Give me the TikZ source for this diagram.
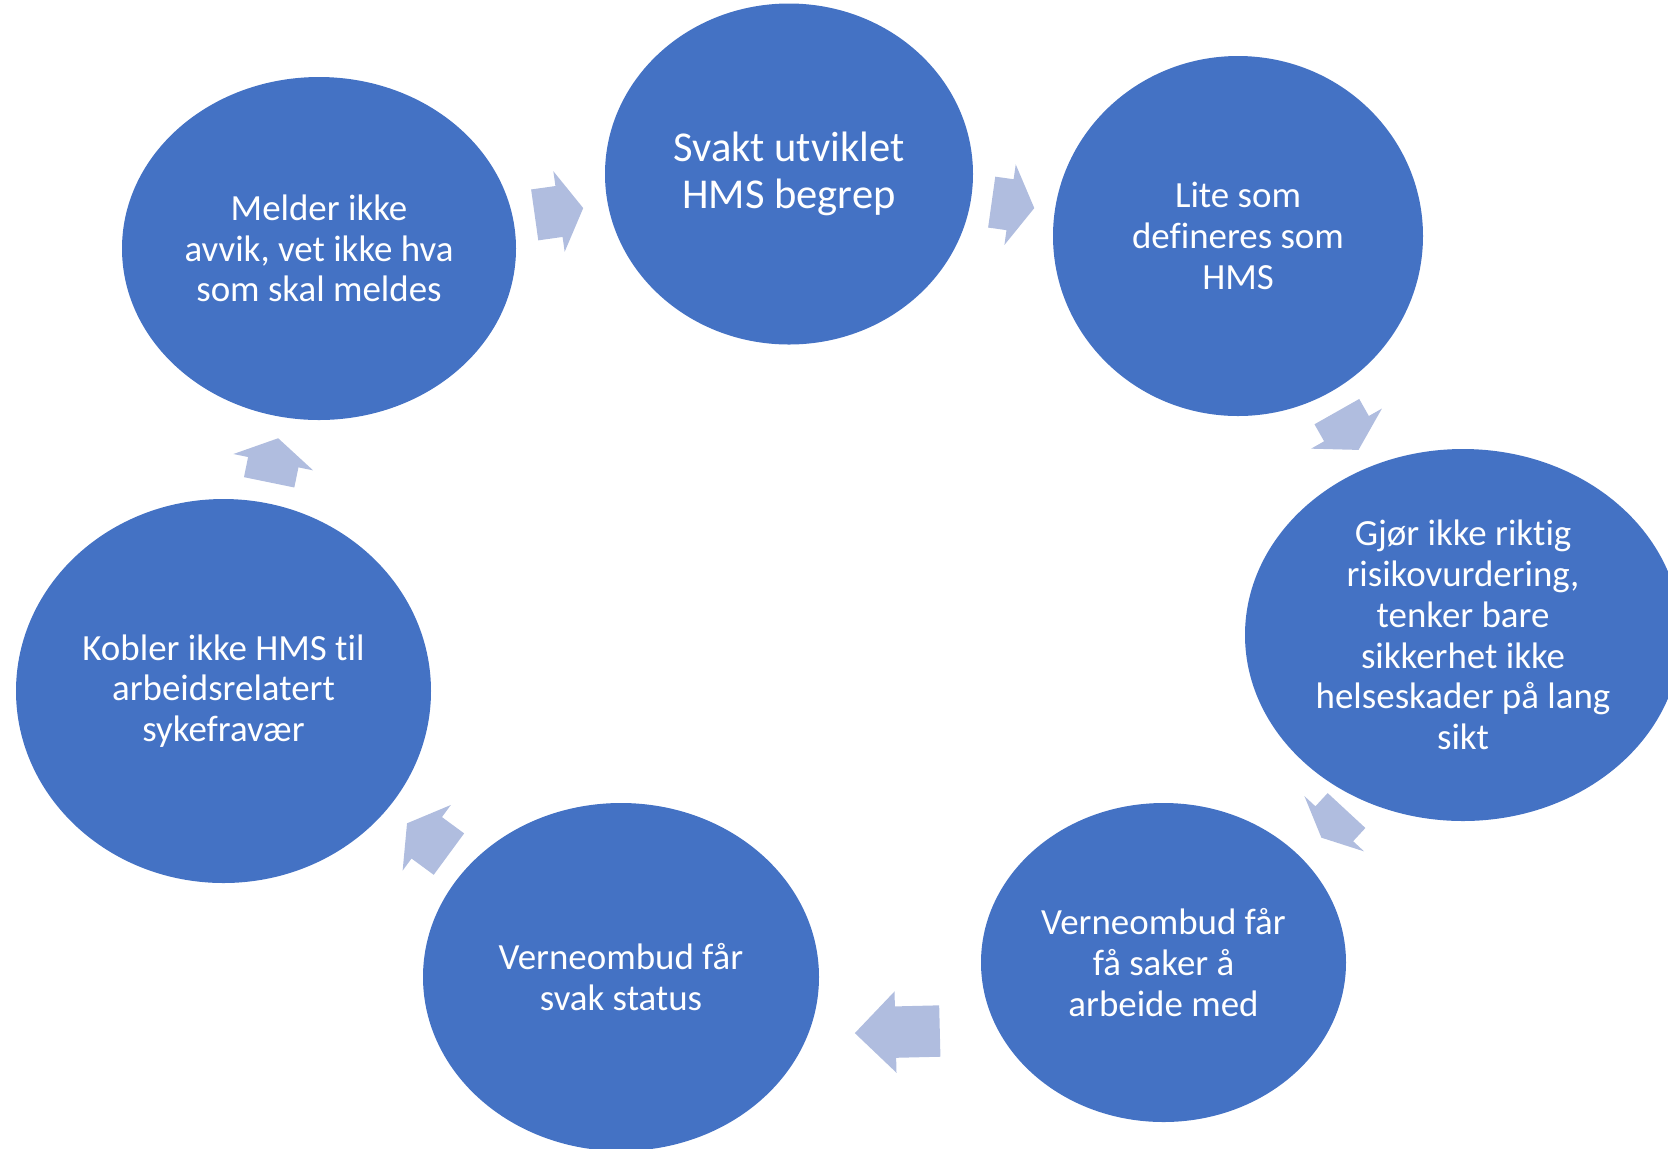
\documentclass[tikz,border=0pt]{standalone}
\usepackage{fontspec}
\setmainfont{Carlito}[Ligatures=NoCommon]
\usepackage{tikz}
\usetikzlibrary{shapes.geometric, shapes.arrows, positioning}
\definecolor{hmsblue}{HTML}{4472C4}
\definecolor{hmsarrow}{HTML}{B0BDDF}
\tikzset{
  bubble/.style={ellipse, fill=hmsblue, text=white, align=center, inner sep=0pt,
                 font=\fontsize{10.5}{11.6}\selectfont},
  flow/.style={single arrow, fill=hmsarrow, inner xsep=0pt, inner ysep=0.25cm, minimum width=0.8cm,
               single arrow head extend=0.15cm, single arrow tip angle=118, anchor=tail},
}
\begin{document}
\begin{tikzpicture}
  \useasboundingbox (0,0) rectangle (16.68,-11.48);

  % the cycle
  \node[bubble, minimum width=3.68cm, minimum height=3.41cm,
        font=\fontsize{12.1}{13.3}\selectfont] (svakt) at (7.89,-1.74) {Svakt utviklet\\HMS begrep};
  \node[bubble, minimum width=3.70cm, minimum height=3.60cm] (lite)   at (12.38,-2.36) {Lite som\\defineres som\\HMS};
  \node[bubble, minimum width=4.36cm, minimum height=3.72cm] (gjor)   at (14.63,-6.35) {Gjør ikke riktig\\risikovurdering,\\tenker bare\\sikkerhet ikke\\helseskader på lang\\sikt};
  \node[bubble, minimum width=3.65cm, minimum height=3.19cm] (saker)  at (11.635,-9.625) {Verneombud får\\få saker å\\arbeide med};
  \node[bubble, minimum width=3.96cm, minimum height=3.48cm] (status) at (6.21,-9.77) {Verneombud får\\svak status};
  \node[bubble, minimum width=4.15cm, minimum height=3.84cm] (kobler) at (2.235,-6.91) {Kobler ikke HMS til\\arbeidsrelatert\\sykefravær};
  \node[bubble, minimum width=3.94cm, minimum height=3.43cm] (melder) at (3.19,-2.485) {Melder ikke\\avvik, vet ikke hva\\som skal meldes};

  % block arrows between the bubbles
  \node[flow, minimum height=0.49cm, rotate=8]      (ar1) at (5.34,-2.15) {};
  \node[flow, minimum height=0.43cm, rotate=-8]     (ar2) at (9.91,-2.02) {};
  \node[flow, minimum height=0.44cm, rotate=-60.5]  (ar3) at (13.365,-4.11) {};
  \node[flow, minimum height=0.37cm, rotate=-132.8, single arrow tip angle=130] (ar4) at (13.47,-8.10) {};
  \node[flow, minimum height=0.85cm, rotate=181.4, single arrow tip angle=90]   (ar5) at (9.405,-10.31) {};
  \node[flow, minimum height=0.52cm, rotate=143.7]  (ar6) at (4.495,-8.545) {};
  \node[flow, minimum height=0.45cm, rotate=78.4]   (ar7) at (2.69,-4.83) {};
\end{tikzpicture}
\end{document}
